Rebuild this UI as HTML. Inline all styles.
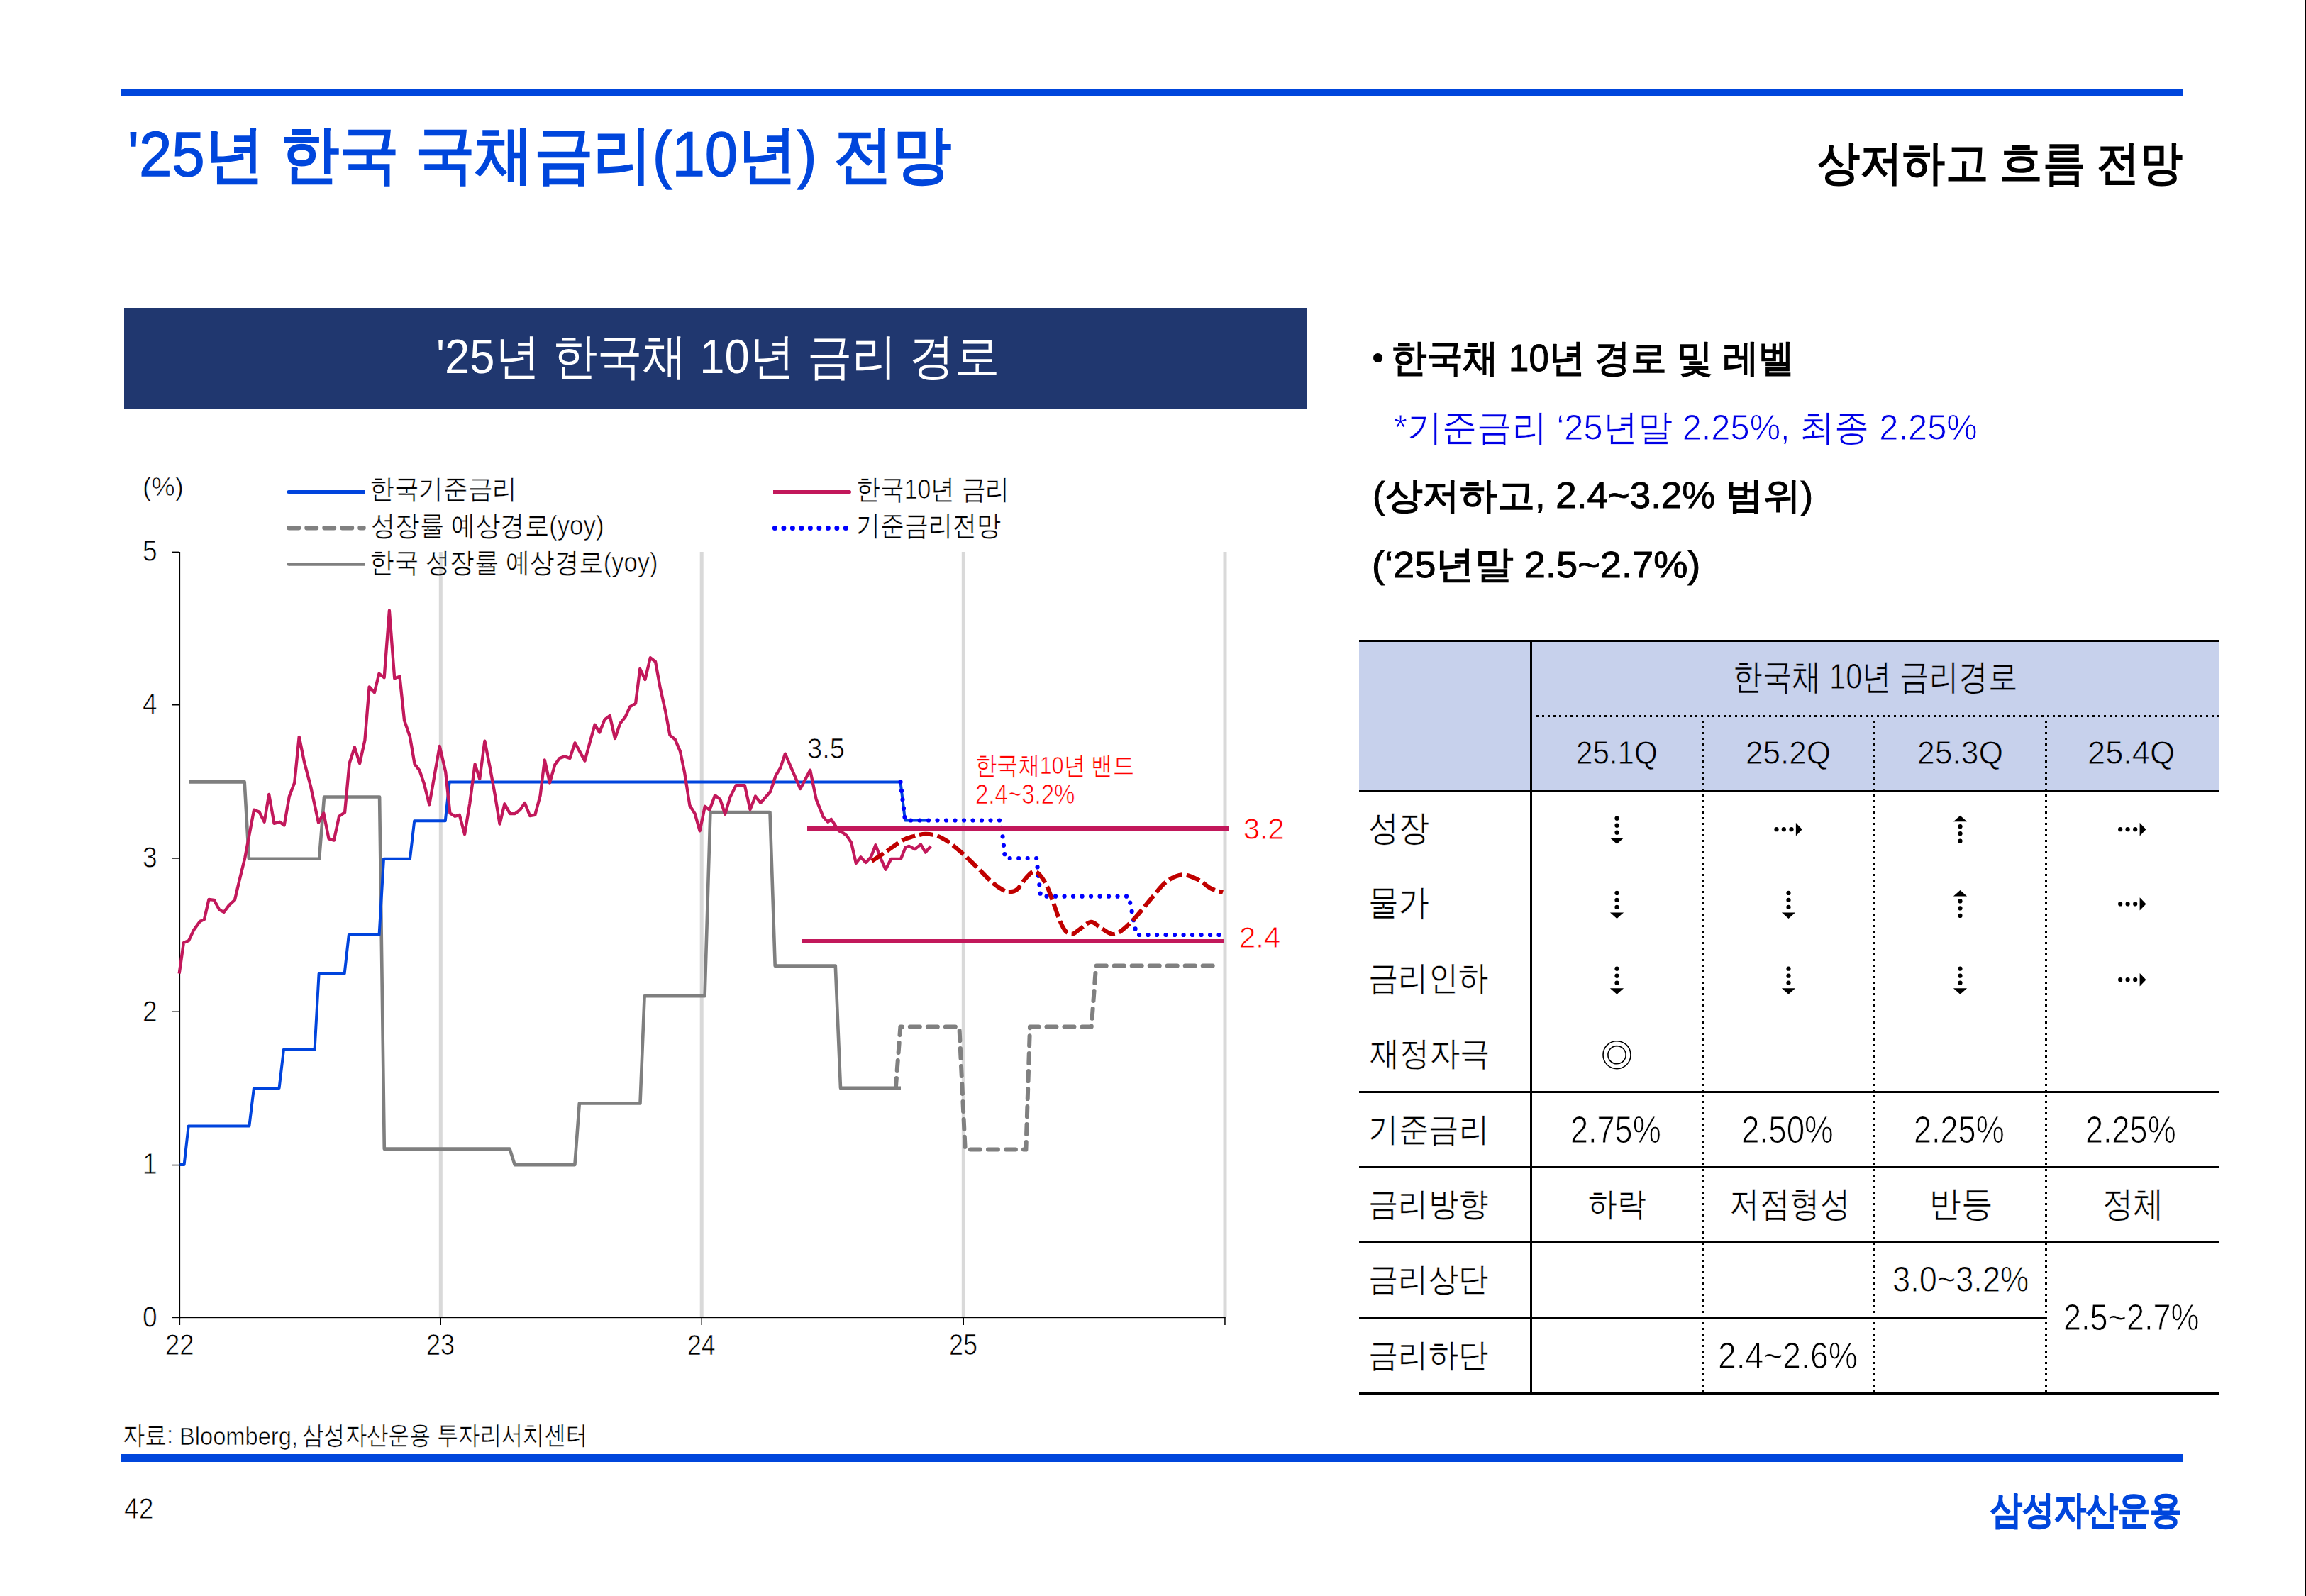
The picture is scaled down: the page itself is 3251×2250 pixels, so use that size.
<!DOCTYPE html>
<html><head><meta charset="utf-8"><title>'25년 한국 국채금리(10년) 전망</title>
<style>
html,body{margin:0;padding:0;background:#fff;}
body{width:3251px;height:2250px;position:relative;overflow:hidden;font-family:"Liberation Sans",sans-serif;}
.ov{position:absolute;left:0;top:0;}
.bar{position:absolute;}
.t{position:absolute;white-space:nowrap;line-height:1;transform-origin:0 0;}
.lt{font-weight:normal;-webkit-text-stroke:0.016em currentColor}
.lt2{font-weight:normal;-webkit-text-stroke:0.018em currentColor}
.reg{-webkit-text-stroke:0.01em var(--bg)}
.reg .th{-webkit-text-stroke:0.018em var(--bg)}

</style></head><body>
<div class="bar" style="left:171px;top:126px;width:2907px;height:10px;background:#0046DC"></div>
<div class="bar" style="left:175px;top:434px;width:1668px;height:143px;background:#20376F"></div>
<div class="bar" style="left:171px;top:2050px;width:2907px;height:10.5px;background:#0046DC"></div>
<div class="bar" style="left:3249.5px;top:0;width:1.5px;height:2250px;background:#000"></div>
<svg class="ov" width="3251" height="2250" viewBox="0 0 3251 2250"><rect x="618.8" y="778" width="5" height="1079" fill="#D9D9D9"/><rect x="986.7" y="778" width="5" height="1079" fill="#D9D9D9"/><rect x="1355.8" y="778" width="5" height="1079" fill="#D9D9D9"/><rect x="1724.5" y="778" width="5" height="1079" fill="#D9D9D9"/><rect x="252.6" y="778" width="1.5" height="1081" fill="#000"/><rect x="243" y="1856.7" width="1484.5" height="1.5" fill="#000"/><rect x="243" y="777.6" width="10" height="1.5" fill="#000"/><rect x="243" y="993.0" width="10" height="1.5" fill="#000"/><rect x="243" y="1209.2" width="10" height="1.5" fill="#000"/><rect x="243" y="1425.5" width="10" height="1.5" fill="#000"/><rect x="243" y="1641.8" width="10" height="1.5" fill="#000"/><rect x="252.6" y="1857" width="1.5" height="11" fill="#000"/><rect x="620.5" y="1857" width="1.5" height="11" fill="#000"/><rect x="988.5" y="1857" width="1.5" height="11" fill="#000"/><rect x="1357.5" y="1857" width="1.5" height="11" fill="#000"/><rect x="1726.2" y="1857" width="1.5" height="11" fill="#000"/><polyline points="266.2,1102.4 344.7,1102.4 350.9,1210.7 450.1,1210.7 457.0,1123.5 535.1,1123.5 541.8,1619.6 718.6,1619.6 725.7,1642.1 810.4,1642.1 816.8,1555.4 902.5,1555.4 908.6,1404.3 993.6,1404.3 1001.4,1145.0 1085.5,1145.0 1092.7,1361.6 1177.8,1361.6 1185.0,1533.9 1270.0,1533.9" fill="none" stroke="#7F7F7F" stroke-width="4.6" stroke-linejoin="round"/><polyline points="1262.8,1533.9 1269.4,1447.6 1352.4,1447.6 1360.7,1620.6 1446.4,1620.6 1452.0,1447.6 1538.7,1447.6 1545.2,1361.6 1711.7,1361.6" fill="none" stroke="#808080" stroke-width="6" stroke-linejoin="round" stroke-linecap="round" stroke-dasharray="14 11"/><polyline points="253.6,1642.1 259.6,1642.1 265.7,1587.5 351.4,1587.5 357.9,1533.9 393.6,1533.9 400.0,1479.6 443.6,1479.6 449.6,1372.5 485.7,1372.5 491.8,1317.9 534.6,1317.9 541.0,1210.7 578.0,1210.7 584.2,1157.3 627.8,1157.3 633.6,1102.4 1269.5,1102.4 1276.0,1156.5 1310.8,1156.5" fill="none" stroke="#0044DD" stroke-width="4" stroke-linejoin="round"/><polyline points="252.7,1372.5 258.9,1328.9 266.2,1325.9 273.4,1310.7 281.8,1299.0 288.0,1296.1 294.5,1267.8 301.8,1268.9 309.1,1282.3 315.6,1286.0 322.9,1276.1 330.9,1268.9 337.4,1241.6 345.4,1208.9 351.9,1174.4 358.1,1141.7 365.4,1144.6 372.7,1158.7 379.2,1119.9 386.5,1160.9 394.5,1158.7 400.7,1163.5 407.9,1122.4 415.2,1103.5 421.7,1038.8 429.0,1074.4 438.1,1109.0 449.0,1159.8 456.3,1146.4 463.5,1182.4 470.8,1184.6 478.1,1150.8 486.1,1145.3 492.6,1076.2 499.9,1053.3 507.1,1076.2 514.4,1043.5 520.6,968.3 527.9,976.3 534.4,949.8 541.7,955.2 548.9,860.7 556.2,956.3 563.5,953.8 570.0,1015.5 578.0,1038.8 584.6,1077.3 591.5,1086.1 598.0,1105.3 605.3,1134.4 619.8,1051.9 628.2,1088.2 634.4,1146.4 641.6,1150.8 647.8,1148.9 655.1,1176.2 662.3,1132.6 669.6,1077.3 676.2,1098.1 683.4,1044.6 690.7,1081.7 698.0,1121.7 704.5,1161.7 711.4,1133.3 719.0,1147.1 726.0,1147.1 733.2,1141.7 739.8,1131.9 747.0,1150.0 754.3,1148.9 761.6,1121.7 767.8,1071.5 775.0,1103.5 782.3,1078.1 788.8,1069.0 796.1,1066.4 803.4,1069.0 810.6,1047.2 817.9,1060.6 824.5,1072.6 831.4,1047.2 838.6,1021.7 845.2,1032.6 852.4,1014.5 859.7,1009.0 867.0,1041.0 874.2,1019.9 881.5,1010.8 888.1,996.3 896.1,991.6 902.2,942.9 909.5,958.1 916.8,927.2 924.0,932.7 930.6,969.0 937.9,1001.7 944.4,1036.3 951.7,1042.4 958.9,1059.2 965.1,1089.0 972.4,1135.5 979.7,1147.1 986.6,1171.4 993.8,1136.8 1000.4,1141.7 1008.0,1121.3 1015.3,1126.9 1022.2,1147.7 1029.4,1123.6 1037.7,1107.1 1049.9,1107.1 1057.5,1141.1 1065.0,1122.6 1072.3,1131.8 1086.1,1116.0 1093.7,1093.3 1100.3,1082.4 1106.9,1062.6 1128.3,1112.1 1142.2,1085.7 1150.7,1126.9 1160.6,1151.6 1167.2,1158.9 1171.8,1154.9 1182.7,1171.4 1189.3,1174.7 1193.6,1178.0 1200.2,1187.9 1206.8,1216.9 1213.4,1208.3 1220.6,1215.9 1227.9,1208.3 1234.4,1191.2 1242.0,1210.9 1248.6,1225.8 1256.2,1210.9 1270.0,1210.9 1276.6,1194.5 1281.6,1192.8 1289.8,1197.1 1298.1,1190.5 1304.7,1201.7 1312.2,1192.8" fill="none" stroke="#C2185B" stroke-width="4.3" stroke-linejoin="round"/><polyline points="1269.5,1102.4 1276.0,1156.5 1411.0,1156.5 1417.0,1210.0 1461.2,1210.0 1467.1,1263.7 1591.4,1263.7 1602.3,1318.0 1721.0,1318.0" fill="none" stroke="#0000FF" stroke-width="6.2" stroke-linecap="round" stroke-dasharray="0 12.5"/><rect x="1138" y="1165" width="594" height="6" fill="#C2185B"/><rect x="1131" y="1324" width="594" height="6" fill="#C2185B"/><path d="M1229.0,1214.1 C1232.4,1211.9 1242.2,1205.5 1249.3,1200.6 C1256.5,1195.7 1265.5,1188.4 1271.9,1184.8 C1278.3,1181.2 1282.2,1180.7 1287.6,1179.2 C1293.1,1177.7 1298.9,1175.9 1304.6,1175.8 C1310.2,1175.7 1316.0,1176.6 1321.5,1178.5 C1326.9,1180.4 1331.6,1183.2 1337.3,1187.1 C1342.9,1190.9 1348.5,1195.7 1355.3,1201.7 C1362.1,1207.7 1370.7,1216.2 1377.8,1223.1 C1385.0,1230.1 1392.1,1238.2 1398.1,1243.4 C1404.2,1248.7 1409.8,1252.4 1413.9,1254.7 C1418.1,1257.0 1419.6,1257.6 1422.9,1257.4 C1426.3,1257.2 1430.5,1256.7 1434.2,1253.6 C1438.0,1250.5 1441.7,1243.1 1445.5,1238.9 C1449.3,1234.8 1453.4,1229.7 1456.8,1228.8 C1460.2,1227.8 1462.6,1229.9 1465.8,1233.3 C1469.0,1236.7 1472.7,1242.5 1475.9,1249.1 C1479.1,1255.6 1482.0,1264.7 1485.0,1272.7 C1488.0,1280.8 1491.2,1291.0 1494.0,1297.6 C1496.8,1304.1 1498.9,1309.0 1501.9,1312.2 C1504.9,1315.4 1508.6,1317.1 1512.0,1316.7 C1515.4,1316.3 1517.8,1312.8 1522.2,1310.0 C1526.5,1307.1 1533.1,1300.2 1538.0,1299.8 C1542.8,1299.4 1546.6,1304.9 1551.5,1307.7 C1556.4,1310.5 1562.4,1316.0 1567.3,1316.7 C1572.2,1317.5 1575.2,1316.2 1580.8,1312.2 C1586.4,1308.3 1594.0,1300.7 1601.1,1293.0 C1608.2,1285.3 1616.5,1274.3 1623.6,1266.0 C1630.8,1257.7 1636.8,1248.9 1643.9,1243.4 C1651.1,1238.0 1659.0,1233.9 1666.5,1233.3 C1674.0,1232.7 1682.3,1236.9 1689.0,1240.1 C1695.8,1243.2 1701.3,1249.4 1707.1,1252.5 C1712.9,1255.5 1721.2,1257.2 1724.0,1258.1" fill="none" stroke="#C00000" stroke-width="6" stroke-dasharray="19.85 5.95"/><line x1="407" y1="693.4" x2="515" y2="693.4" stroke="#0044DD" stroke-width="5"/><circle cx="407" cy="693.4" r="2.5" fill="#0044DD"/><line x1="407.5" y1="744.3" x2="512.5" y2="744.3" stroke="#808080" stroke-width="6.5" stroke-linecap="round" stroke-dasharray="13.5 11.5"/><line x1="407" y1="795.4" x2="515" y2="795.4" stroke="#7F7F7F" stroke-width="4.6"/><circle cx="407" cy="795.4" r="2.3" fill="#7F7F7F"/><line x1="1090" y1="693.4" x2="1197.5" y2="693.4" stroke="#C2185B" stroke-width="5"/><circle cx="1197.5" cy="693.4" r="2.5" fill="#C2185B"/><line x1="1092.4" y1="744.4" x2="1192.5" y2="744.4" stroke="#0000FF" stroke-width="7" stroke-linecap="round" stroke-dasharray="0 12.49"/><rect x="1916" y="903" width="1212" height="213" fill="#C7D1EC"/><rect x="1916" y="902" width="1212" height="3" fill="#000"/><rect x="1916" y="1114" width="1212" height="3" fill="#000"/><rect x="1916" y="1538" width="1212" height="3" fill="#000"/><rect x="1916" y="1644" width="1212" height="3" fill="#000"/><rect x="1916" y="1750" width="1212" height="3" fill="#000"/><rect x="1916" y="1963" width="1212" height="3" fill="#000"/><rect x="1916" y="1857" width="970" height="3" fill="#000"/><rect x="2157" y="902" width="3" height="1064" fill="#000"/><line x1="2166" y1="1009.5" x2="3128" y2="1009.5" stroke="#000" stroke-width="3" stroke-dasharray="3 5"/><line x1="2400.5" y1="1016" x2="2400.5" y2="1963" stroke="#000" stroke-width="3" stroke-dasharray="3 5"/><line x1="2642.5" y1="1016" x2="2642.5" y2="1963" stroke="#000" stroke-width="3" stroke-dasharray="3 5"/><line x1="2884.5" y1="1016" x2="2884.5" y2="1963" stroke="#000" stroke-width="3" stroke-dasharray="3 5"/><circle cx="2279.5" cy="1153.7" r="3.1" fill="#000"/><circle cx="2279.5" cy="1163.7" r="3.1" fill="#000"/><circle cx="2279.5" cy="1173.7" r="3.1" fill="#000"/><polygon points="2269.9,1181.2 2289.1,1181.2 2279.5,1189.7" fill="#000"/><circle cx="2504.5" cy="1169.2" r="3.1" fill="#000"/><circle cx="2514.8" cy="1169.2" r="3.1" fill="#000"/><circle cx="2525.5" cy="1169.2" r="3.1" fill="#000"/><polygon points="2531.9,1160.0 2531.9,1178.4 2540.7,1169.2" fill="#000"/><circle cx="2763.5" cy="1165.2" r="3.1" fill="#000"/><circle cx="2763.5" cy="1175.2" r="3.1" fill="#000"/><circle cx="2763.5" cy="1185.7" r="3.1" fill="#000"/><polygon points="2753.9,1158.2 2773.1,1158.2 2763.5,1149.7" fill="#000"/><circle cx="2989.2" cy="1169.2" r="3.1" fill="#000"/><circle cx="2999.6" cy="1169.2" r="3.1" fill="#000"/><circle cx="3010.2" cy="1169.2" r="3.1" fill="#000"/><polygon points="3016.65,1160.0 3016.65,1178.4 3025.45,1169.2" fill="#000"/><circle cx="2279.5" cy="1258.9" r="3.1" fill="#000"/><circle cx="2279.5" cy="1268.9" r="3.1" fill="#000"/><circle cx="2279.5" cy="1278.9" r="3.1" fill="#000"/><polygon points="2269.9,1286.4 2289.1,1286.4 2279.5,1294.9" fill="#000"/><circle cx="2521.5" cy="1258.9" r="3.1" fill="#000"/><circle cx="2521.5" cy="1268.9" r="3.1" fill="#000"/><circle cx="2521.5" cy="1278.9" r="3.1" fill="#000"/><polygon points="2511.9,1286.4 2531.1,1286.4 2521.5,1294.9" fill="#000"/><circle cx="2763.5" cy="1270.4" r="3.1" fill="#000"/><circle cx="2763.5" cy="1280.4" r="3.1" fill="#000"/><circle cx="2763.5" cy="1290.9" r="3.1" fill="#000"/><polygon points="2753.9,1263.4 2773.1,1263.4 2763.5,1254.9" fill="#000"/><circle cx="2989.2" cy="1274.4" r="3.1" fill="#000"/><circle cx="2999.6" cy="1274.4" r="3.1" fill="#000"/><circle cx="3010.2" cy="1274.4" r="3.1" fill="#000"/><polygon points="3016.65,1265.2 3016.65,1283.6000000000001 3025.45,1274.4" fill="#000"/><circle cx="2279.5" cy="1365.7" r="3.1" fill="#000"/><circle cx="2279.5" cy="1375.7" r="3.1" fill="#000"/><circle cx="2279.5" cy="1385.7" r="3.1" fill="#000"/><polygon points="2269.9,1393.2 2289.1,1393.2 2279.5,1401.7" fill="#000"/><circle cx="2521.5" cy="1365.7" r="3.1" fill="#000"/><circle cx="2521.5" cy="1375.7" r="3.1" fill="#000"/><circle cx="2521.5" cy="1385.7" r="3.1" fill="#000"/><polygon points="2511.9,1393.2 2531.1,1393.2 2521.5,1401.7" fill="#000"/><circle cx="2763.5" cy="1365.7" r="3.1" fill="#000"/><circle cx="2763.5" cy="1375.7" r="3.1" fill="#000"/><circle cx="2763.5" cy="1385.7" r="3.1" fill="#000"/><polygon points="2753.9,1393.2 2773.1,1393.2 2763.5,1401.7" fill="#000"/><circle cx="2989.2" cy="1381.2" r="3.1" fill="#000"/><circle cx="2999.6" cy="1381.2" r="3.1" fill="#000"/><circle cx="3010.2" cy="1381.2" r="3.1" fill="#000"/><polygon points="3016.65,1372.0 3016.65,1390.4 3025.45,1381.2" fill="#000"/><circle cx="2279.5" cy="1487.2" r="19.5" fill="none" stroke="#000" stroke-width="1.6"/><circle cx="2279.5" cy="1487.2" r="12.6" fill="none" stroke="#000" stroke-width="1.6"/><circle cx="1942.6" cy="504.5" r="6.6" fill="#000"/></svg>
<div class="t" style="left:179.5px;top:173.6px;font-size:88.89px;color:#0046DC;font-weight:bold;--bg:#fff;transform:scaleX(0.9384)"><span class=lt>'25</span>년 한국 국채금리<span class=lt>(10</span>년<span class=lt>)</span> 전망</div><div class="t" style="left:2561.6px;top:197.1px;font-size:65.96px;color:#000;font-weight:bold;--bg:#fff;transform:scaleX(0.9118)">상저하고 흐름 전망</div><div class="t" style="left:614.8px;top:468.5px;font-size:68.92px;color:#fff;font-weight:normal;--bg:#20376F;transform:scaleX(0.9189)">'25년 한국채 10년 금리 경로</div><div class="t reg" style="left:200.6px;top:667.5px;font-size:37.53px;color:#000;font-weight:normal;--bg:#fff;transform:scaleX(0.9947)"><span class=th>(%)</span></div><div class="t reg" style="left:521.4px;top:670.9px;font-size:37.84px;color:#000;font-weight:normal;--bg:#fff;transform:scaleX(0.9130)">한국기준금리</div><div class="t reg" style="left:522.8px;top:721.2px;font-size:39.48px;color:#000;font-weight:normal;--bg:#fff;transform:scaleX(0.8841)">성장률 예상경로<span class=th>(yoy)</span></div><div class="t reg" style="left:521.4px;top:773.7px;font-size:38.96px;color:#000;font-weight:normal;--bg:#fff;transform:scaleX(0.8851)">한국 성장률 예상경로<span class=th>(yoy)</span></div><div class="t reg" style="left:1207.4px;top:670.7px;font-size:38.97px;color:#000;font-weight:normal;--bg:#fff;transform:scaleX(0.8681)">한국<span class=th>10</span>년 금리</div><div class="t reg" style="left:1207.3px;top:721.2px;font-size:39.46px;color:#000;font-weight:normal;--bg:#fff;transform:scaleX(0.8739)">기준금리전망</div><div class="t reg" style="left:201.4px;top:756.3px;font-size:42.09px;color:#000;font-weight:normal;--bg:#fff;transform:scaleX(0.8794)"><span class=th>5</span></div><div class="t reg" style="left:201.4px;top:972.1px;font-size:42.09px;color:#000;font-weight:normal;--bg:#fff;transform:scaleX(0.8794)"><span class=th>4</span></div><div class="t reg" style="left:201.4px;top:1188.3px;font-size:42.09px;color:#000;font-weight:normal;--bg:#fff;transform:scaleX(0.8794)"><span class=th>3</span></div><div class="t reg" style="left:201.4px;top:1404.5px;font-size:42.09px;color:#000;font-weight:normal;--bg:#fff;transform:scaleX(0.8794)"><span class=th>2</span></div><div class="t reg" style="left:201.4px;top:1620.4px;font-size:42.09px;color:#000;font-weight:normal;--bg:#fff;transform:scaleX(0.8794)"><span class=th>1</span></div><div class="t reg" style="left:201.4px;top:1836.3px;font-size:42.09px;color:#000;font-weight:normal;--bg:#fff;transform:scaleX(0.8794)"><span class=th>0</span></div><div class="t reg" style="left:232.7px;top:1874.8px;font-size:42.21px;color:#000;font-weight:normal;--bg:#fff;transform:scaleX(0.8622)"><span class=th>22</span></div><div class="t reg" style="left:600.7px;top:1874.9px;font-size:41.60px;color:#000;font-weight:normal;--bg:#fff;transform:scaleX(0.8660)"><span class=th>23</span></div><div class="t reg" style="left:968.7px;top:1874.8px;font-size:41.57px;color:#000;font-weight:normal;--bg:#fff;transform:scaleX(0.8583)"><span class=th>24</span></div><div class="t reg" style="left:1337.7px;top:1874.9px;font-size:41.60px;color:#000;font-weight:normal;--bg:#fff;transform:scaleX(0.8662)"><span class=th>25</span></div><div class="t reg" style="left:1138.4px;top:1035.3px;font-size:40.58px;color:#000;font-weight:normal;--bg:#fff;transform:scaleX(0.9365)"><span class=th>3.5</span></div><div class="t reg" style="left:1375.3px;top:1060.6px;font-size:35.01px;color:#FF0000;font-weight:normal;--bg:#fff;transform:scaleX(0.8653)">한국채<span class=th>10</span>년 밴드</div><div class="t reg" style="left:1375.0px;top:1100.6px;font-size:38.43px;color:#FF0000;font-weight:normal;--bg:#fff;transform:scaleX(0.8589)"><span class=th>2.4~3.2%</span></div><div class="t reg" style="left:1752.9px;top:1147.3px;font-size:42.78px;color:#FF0000;font-weight:normal;--bg:#fff;transform:scaleX(0.9681)"><span class=th>3.2</span></div><div class="t reg" style="left:1747.3px;top:1300.2px;font-size:42.65px;color:#FF0000;font-weight:normal;--bg:#fff;transform:scaleX(0.9819)"><span class=th>2.4</span></div><div class="t reg" style="left:173.4px;top:2005.2px;font-size:35.98px;color:#000;font-weight:normal;--bg:#fff;transform:scaleX(0.8658)">자료<span class=th>:</span></div><div class="t reg" style="left:253.1px;top:2007.6px;font-size:34.84px;color:#000;font-weight:normal;--bg:#fff;transform:scaleX(0.9374)"><span class=th>Bloomberg,</span></div><div class="t reg" style="left:425.7px;top:2005.8px;font-size:35.56px;color:#000;font-weight:normal;--bg:#fff;transform:scaleX(0.8415)">삼성자산운용 투자리서치센터</div><div class="t reg" style="left:174.8px;top:2105.9px;font-size:41.92px;color:#000;font-weight:normal;--bg:#fff;transform:scaleX(0.8895)"><span class=th>42</span></div><div class="t" style="left:2805.6px;top:2101.9px;font-size:54.28px;color:#0046DC;font-weight:bold;--bg:#fff;transform:scaleX(0.8341);-webkit-text-stroke:1.2px #0046DC">삼성자산운용</div><div class="t" style="left:1960.9px;top:477.7px;font-size:54.29px;color:#000;font-weight:bold;--bg:#fff;transform:scaleX(0.9378)">한국채 <span class=lt2>10</span>년 경로 및 레벨</div><div class="t reg" style="left:1964.5px;top:577.5px;font-size:50.61px;color:#0000E6;font-weight:normal;--bg:#fff;transform:scaleX(0.9650)"><span class=th>*</span>기준금리 <span class=th>‘25</span>년말 <span class=th>2.25%,</span> 최종 <span class=th>2.25%</span></div><div class="t" style="left:1934.5px;top:672.7px;font-size:51.03px;color:#000;font-weight:bold;--bg:#fff;transform:scaleX(1.0362)"><span class=lt2>(</span>상저하고<span class=lt2>, 2.4~3.2% </span>범위<span class=lt2>)</span></div><div class="t" style="left:1934.4px;top:770.3px;font-size:52.53px;color:#000;font-weight:bold;--bg:#fff;transform:scaleX(1.0320)"><span class=lt2>(‘25</span>년말<span class=lt2> 2.5~2.7%)</span></div><div class="t reg" style="left:2442.7px;top:929.3px;font-size:50.04px;color:#000;font-weight:normal;--bg:#C7D1EC;transform:scaleX(0.8302)">한국채 <span class=th>10</span>년 금리경로</div><div class="t reg" style="left:2222.3px;top:1037.5px;font-size:45.98px;color:#000;font-weight:normal;--bg:#C7D1EC;transform:scaleX(0.9167)"><span class=th>25.1Q</span></div><div class="t reg" style="left:2460.5px;top:1036.8px;font-size:47.14px;color:#000;font-weight:normal;--bg:#C7D1EC;transform:scaleX(0.9348)"><span class=th>25.2Q</span></div><div class="t reg" style="left:2702.6px;top:1036.8px;font-size:47.14px;color:#000;font-weight:normal;--bg:#C7D1EC;transform:scaleX(0.9429)"><span class=th>25.3Q</span></div><div class="t reg" style="left:2943.4px;top:1036.8px;font-size:47.14px;color:#000;font-weight:normal;--bg:#C7D1EC;transform:scaleX(0.9592)"><span class=th>25.4Q</span></div><div class="t reg" style="left:1929.4px;top:1142.2px;font-size:50.03px;color:#000;font-weight:normal;--bg:#fff;transform:scaleX(0.8593)">성장</div><div class="t reg" style="left:1928.5px;top:1247.3px;font-size:50.03px;color:#000;font-weight:normal;--bg:#fff;transform:scaleX(0.8568)">물가</div><div class="t reg" style="left:1928.6px;top:1354.4px;font-size:48.35px;color:#000;font-weight:normal;--bg:#fff;transform:scaleX(0.8828)">금리인하</div><div class="t reg" style="left:1931.2px;top:1461.4px;font-size:47.22px;color:#000;font-weight:normal;--bg:#fff;transform:scaleX(0.9014)">재정자극</div><div class="t reg" style="left:1928.6px;top:1569.1px;font-size:46.68px;color:#000;font-weight:normal;--bg:#fff;transform:scaleX(0.9062)">기준금리</div><div class="t reg" style="left:1928.6px;top:1673.6px;font-size:46.12px;color:#000;font-weight:normal;--bg:#fff;transform:scaleX(0.9199)">금리방향</div><div class="t reg" style="left:1928.6px;top:1779.6px;font-size:46.12px;color:#000;font-weight:normal;--bg:#fff;transform:scaleX(0.9199)">금리상단</div><div class="t reg" style="left:1928.6px;top:1887.4px;font-size:46.12px;color:#000;font-weight:normal;--bg:#fff;transform:scaleX(0.9199)">금리하단</div><div class="t reg" style="left:2214.3px;top:1566.2px;font-size:53.64px;color:#000;font-weight:normal;--bg:#fff;transform:scaleX(0.8400)"><span class=th>2.75%</span></div><div class="t reg" style="left:2454.5px;top:1566.6px;font-size:52.90px;color:#000;font-weight:normal;--bg:#fff;transform:scaleX(0.8656)"><span class=th>2.50%</span></div><div class="t reg" style="left:2697.5px;top:1566.6px;font-size:52.90px;color:#000;font-weight:normal;--bg:#fff;transform:scaleX(0.8517)"><span class=th>2.25%</span></div><div class="t reg" style="left:2940.4px;top:1566.6px;font-size:52.90px;color:#000;font-weight:normal;--bg:#fff;transform:scaleX(0.8517)"><span class=th>2.25%</span></div><div class="t reg" style="left:2238.5px;top:1673.6px;font-size:46.12px;color:#000;font-weight:normal;--bg:#fff;transform:scaleX(0.8880)">하락</div><div class="t reg" style="left:2438.0px;top:1672.2px;font-size:50.29px;color:#000;font-weight:normal;--bg:#fff;transform:scaleX(0.8526)">저점형성</div><div class="t reg" style="left:2720.1px;top:1672.1px;font-size:50.02px;color:#000;font-weight:normal;--bg:#fff;transform:scaleX(0.8950)">반등</div><div class="t reg" style="left:2963.5px;top:1672.1px;font-size:50.02px;color:#000;font-weight:normal;--bg:#fff;transform:scaleX(0.8699)">정체</div><div class="t reg" style="left:2667.5px;top:1779.1px;font-size:50.75px;color:#000;font-weight:normal;--bg:#fff;transform:scaleX(0.8905)"><span class=th>3.0~3.2%</span></div><div class="t reg" style="left:2422.2px;top:1885.3px;font-size:52.19px;color:#000;font-weight:normal;--bg:#fff;transform:scaleX(0.8865)"><span class=th>2.4~2.6%</span></div><div class="t reg" style="left:2909.3px;top:1832.0px;font-size:51.47px;color:#000;font-weight:normal;--bg:#fff;transform:scaleX(0.8754)"><span class=th>2.5~2.7%</span></div>
</body></html>
